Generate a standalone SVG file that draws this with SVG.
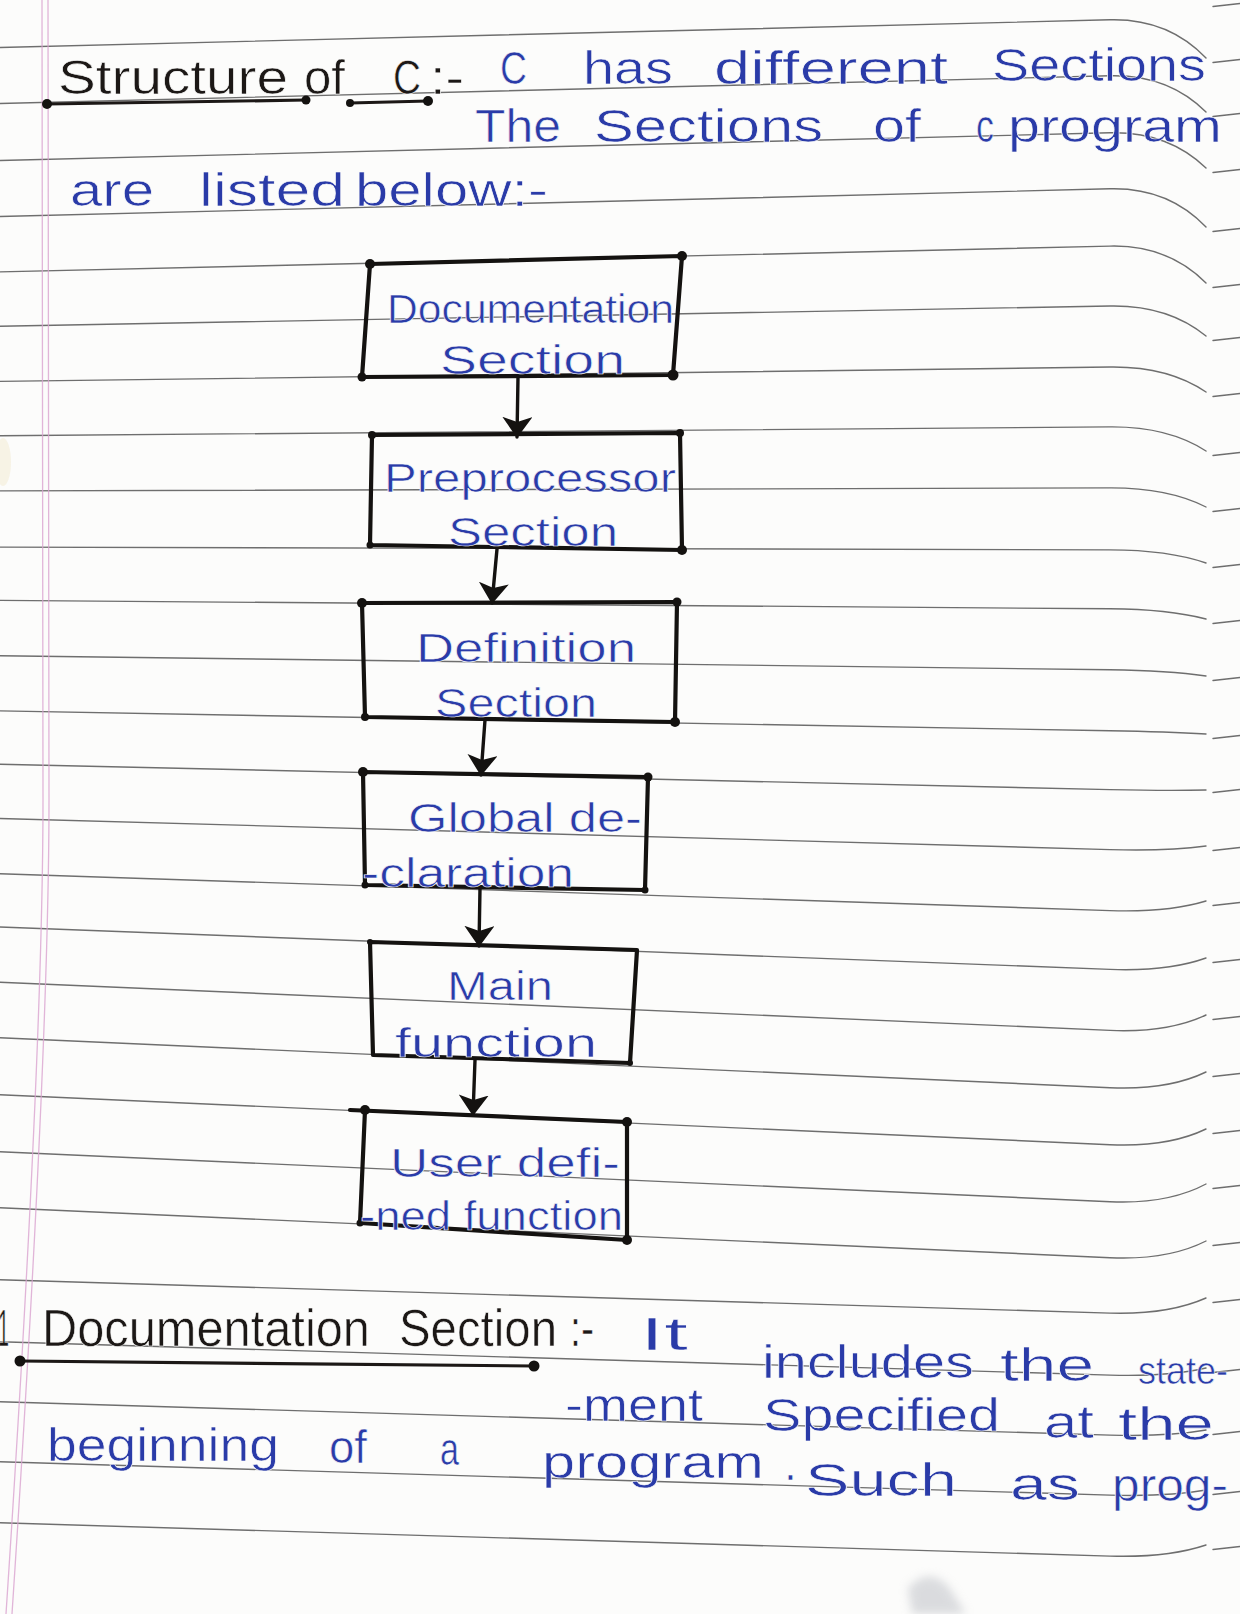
<svg xmlns="http://www.w3.org/2000/svg" width="1240" height="1614" viewBox="0 0 1240 1614">
  <defs>
    <style>
      .paper { fill: #fcfcfb; }
      .rule { fill: none; stroke: #555; stroke-width: 1.4; stroke-linecap: round; opacity: 0.85; }
      .margin { fill: none; stroke: #d9a3cf; stroke-width: 1.3; opacity: 0.8; }
      .box { fill: none; stroke: #141210; stroke-width: 4.2; stroke-linejoin: round; stroke-linecap: round; }
      .dot { fill: #141210; }
      .wire { fill: none; stroke: #141210; stroke-width: 3.4; stroke-linecap: round; }
      .rule-ink { fill: none; stroke: #1c1816; stroke-width: 3.2; stroke-linecap: round; }
      .blue { fill: #2a3ba8; stroke: #fcfcfb; stroke-width: 0.6; font-family: "Liberation Sans", Arial, sans-serif; }
      .black { fill: #1c1816; stroke: #fcfcfb; stroke-width: 0.6; font-family: "Liberation Sans", Arial, sans-serif; }
      .label { font-size: 40px; }
      .head { font-size: 48px; }
      .body { font-size: 46px; }
      .head2 { font-size: 52px; }
    </style>
    <marker id="head" markerUnits="userSpaceOnUse" markerWidth="21" markerHeight="30" viewBox="0 0 21 30" refX="20" refY="15" orient="auto">
      <path d="M0,0 L21,15 L0,30 L5,15 Z" fill="#141210"/>
    </marker>
    <filter id="soft" x="-50%" y="-50%" width="200%" height="200%">
      <feGaussianBlur stdDeviation="5"/>
    </filter>
  </defs>

  <!-- paper -->
  <rect class="paper" x="0" y="0" width="1240" height="1614"/>
  <ellipse cx="3" cy="462" rx="8" ry="24" fill="#eee3bd" opacity="0.35"/>
  <path d="M908,1588 Q928,1566 948,1586 L966,1614 L912,1614 Z" fill="#b9bcc2" opacity="0.5" filter="url(#soft)"/>

  <!-- ruled lines of the notebook page -->
  <g id="ruling">
    <path class="rule" d="M0,47.5 L1110,19.8 Q1168,18.3 1206,58
      M0,103.5 L1110,75.8 Q1168,74.3 1206,112
      M0,160.5 L1110,132.8 Q1168,131.3 1206,168
      M0,216.5 L1110,188.8 Q1168,187.3 1206,227
      M0,271.9 L1110,246.1 Q1168,244.7 1206,283
      M0,326.2 L1110,306 Q1168,304.9 1206,336
      M0,381.4 L1110,367 Q1168,366.2 1206,392
      M0,435.7 L1110,426.9 Q1168,426.4 1206,451
      M0,490.9 L1110,487.9 Q1168,487.7 1206,507
      M0,547.1 L1110,549.9 Q1168,550 1206,563
      M0,600.4 L1110,608.8 Q1168,609.2 1206,619
      M0,655.7 L1110,669.8 Q1168,670.5 1206,676
      M0,710.9 L1110,730.8 Q1168,731.8 1206,734
      M0,764.2 L1110,789.6 Q1168,790.9 1206,790
      M0,818.5 L1110,849.6 Q1168,851.2 1206,846
      M0,873.7 L1110,910.6 Q1168,912.5 1206,901
      M0,927 L1110,969.4 Q1168,971.6 1206,958
      M0,982.2 L1110,1030.4 Q1168,1032.9 1206,1015
      M0,1037.7 L1110,1087.7 Q1168,1090.3 1206,1072
      M0,1094.7 L1110,1144.7 Q1168,1147.3 1206,1129
      M0,1151.7 L1110,1201.7 Q1168,1204.3 1206,1184
      M0,1207.7 L1110,1257.7 Q1168,1260.3 1206,1241
      M0,1279.8 L1110,1313.1 Q1168,1314.8 1206,1298
      M0,1341.8 L1110,1375.1 Q1168,1376.8 1206,1368
      M0,1401.8 L1110,1435.1 Q1168,1436.8 1206,1430
      M0,1461.8 L1110,1495.1 Q1168,1496.8 1206,1490
      M0,1522.8 L1110,1556.1 Q1168,1557.8 1206,1545"/>
    <!-- line ends on the far side of the page fold -->
    <path class="rule" d="M1213,6.5 L1240,3.5 M1213,62.5 L1240,59.5 M1213,116.5 L1240,113.5 M1213,172.5 L1240,169.5
      M1213,231.5 L1240,228.5 M1213,287.5 L1240,284.5 M1213,340.5 L1240,337.5 M1213,396.5 L1240,393.5
      M1213,455.5 L1240,452.5 M1213,511.5 L1240,508.5 M1213,567.5 L1240,564.5 M1213,623.5 L1240,620.5
      M1213,680.5 L1240,677.5 M1213,738.5 L1240,735.5 M1213,792.5 L1240,789.5 M1213,850.5 L1240,847.5
      M1213,905.5 L1240,902.5 M1213,962.5 L1240,959.5 M1213,1019.5 L1240,1016.5 M1213,1076.5 L1240,1073.5
      M1213,1133.5 L1240,1130.5 M1213,1188.5 L1240,1185.5 M1213,1245.5 L1240,1242.5 M1213,1302.5 L1240,1299.5
      M1213,1372.5 L1240,1369.5 M1213,1434.5 L1240,1431.5 M1213,1494.5 L1240,1491.5 M1213,1549.5 L1240,1546.5"/>
    <path class="margin" d="M42,0 L43,800 C43,960 30,1250 6,1614"/>
    <path class="margin" d="M48,0 L49,800 C49,960 36,1250 12,1614"/>
  </g>

  <!-- heading and introduction -->
  <g id="heading">
    <text class="black head" y="94"><tspan x="58" textLength="230" lengthAdjust="spacingAndGlyphs">Structure</tspan><tspan x="304" textLength="41" lengthAdjust="spacingAndGlyphs">of</tspan><tspan x="393" textLength="28" lengthAdjust="spacingAndGlyphs">C</tspan><tspan x="430" textLength="34" lengthAdjust="spacingAndGlyphs">:-</tspan></text>
    <path class="rule-ink" d="M47,104 L306,100 M350,103 L428,101"/>
    <circle class="dot" cx="47" cy="104" r="5"/>
    <circle class="dot" cx="306" cy="100" r="4.5"/>
    <circle class="dot" cx="350" cy="103" r="4"/>
    <circle class="dot" cx="428" cy="101" r="5"/>
    <text class="blue body" y="84"><tspan x="500" textLength="27" lengthAdjust="spacingAndGlyphs">C</tspan><tspan x="583" textLength="90" lengthAdjust="spacingAndGlyphs">has</tspan><tspan x="714" textLength="234" lengthAdjust="spacingAndGlyphs">different</tspan><tspan x="992" y="81" textLength="214" lengthAdjust="spacingAndGlyphs">Sections</tspan></text>
    <text class="blue body" y="142"><tspan x="475" textLength="86" lengthAdjust="spacingAndGlyphs">The</tspan><tspan x="594" textLength="229" lengthAdjust="spacingAndGlyphs">Sections</tspan><tspan x="873" textLength="48" lengthAdjust="spacingAndGlyphs">of</tspan><tspan x="976" textLength="18" lengthAdjust="spacingAndGlyphs">c</tspan><tspan x="1008" textLength="214" lengthAdjust="spacingAndGlyphs">program</tspan></text>
    <text class="blue body" y="206"><tspan x="70" textLength="84" lengthAdjust="spacingAndGlyphs">are</tspan><tspan x="199" textLength="146" lengthAdjust="spacingAndGlyphs">listed</tspan><tspan x="355" textLength="193" lengthAdjust="spacingAndGlyphs">below:-</tspan></text>
  </g>

  <!-- flow of program sections -->
  <g id="connectors">
    <path class="wire" d="M518,377 L517,437" marker-end="url(#head)"/>
    <path class="wire" d="M497,549 L492,603" marker-end="url(#head)"/>
    <path class="wire" d="M485,720 L481,775" marker-end="url(#head)"/>
    <path class="wire" d="M480,888 L479,946" marker-end="url(#head)"/>
    <path class="wire" d="M475,1060 L473,1115" marker-end="url(#head)"/>
  </g>

  <g id="node-documentation">
    <path class="box" d="M370,264 L682,256 L673,375 L362,377 Z"/>
    <circle class="dot" cx="370" cy="264" r="5"/>
    <circle class="dot" cx="682" cy="256" r="5"/>
    <circle class="dot" cx="673" cy="375" r="5.5"/>
    <circle class="dot" cx="362" cy="377" r="4.5"/>
    <text class="blue label" x="387" y="323" textLength="287" lengthAdjust="spacingAndGlyphs">Documentation</text>
    <text class="blue label" x="440" y="374" textLength="185" lengthAdjust="spacingAndGlyphs">Section</text>
  </g>

  <g id="node-preprocessor">
    <path class="box" d="M372,435 L680,433 L682,550 L370,545 Z"/>
    <circle class="dot" cx="372" cy="435" r="4"/>
    <circle class="dot" cx="680" cy="433" r="4"/>
    <circle class="dot" cx="682" cy="550" r="5"/>
    <circle class="dot" cx="370" cy="545" r="3.5"/>
    <text class="blue label" x="384" y="492" textLength="292" lengthAdjust="spacingAndGlyphs">Preprocessor</text>
    <text class="blue label" x="448" y="546" textLength="170" lengthAdjust="spacingAndGlyphs">Section</text>
  </g>

  <g id="node-definition">
    <path class="box" d="M362,603 L677,602 L675,722 L365,717 Z"/>
    <circle class="dot" cx="362" cy="603" r="5"/>
    <circle class="dot" cx="677" cy="602" r="4.5"/>
    <circle class="dot" cx="675" cy="722" r="5"/>
    <circle class="dot" cx="365" cy="717" r="4"/>
    <text class="blue label" x="416" y="662" textLength="220" lengthAdjust="spacingAndGlyphs">Definition</text>
    <text class="blue label" x="435" y="717" textLength="162" lengthAdjust="spacingAndGlyphs">Section</text>
  </g>

  <g id="node-global">
    <path class="box" d="M363,772 L648,777 L645,890 L365,885 Z"/>
    <circle class="dot" cx="363" cy="772" r="5"/>
    <circle class="dot" cx="648" cy="777" r="4.5"/>
    <circle class="dot" cx="645" cy="890" r="3.5"/>
    <circle class="dot" cx="365" cy="885" r="3.5"/>
    <text class="blue label" x="408" y="832" textLength="234" lengthAdjust="spacingAndGlyphs">Global de-</text>
    <text class="blue label" x="362" y="887" textLength="212" lengthAdjust="spacingAndGlyphs">-claration</text>
  </g>

  <g id="node-main">
    <path class="box" d="M370,942 L637,950 L630,1063 L373,1055 Z"/>
    <circle class="dot" cx="370" cy="942" r="3"/>
    <circle class="dot" cx="630" cy="1063" r="3"/>
    <text class="blue label" x="447" y="1000" textLength="106" lengthAdjust="spacingAndGlyphs">Main</text>
    <text class="blue label" x="395" y="1057" textLength="202" lengthAdjust="spacingAndGlyphs">function</text>
  </g>

  <g id="node-user-defined">
    <path class="box" d="M350,1110 L627,1122 L627,1240 L360,1223 L365,1110"/>
    <circle class="dot" cx="365" cy="1110" r="5"/>
    <circle class="dot" cx="627" cy="1122" r="5"/>
    <circle class="dot" cx="627" cy="1240" r="5"/>
    <circle class="dot" cx="360" cy="1223" r="3.5"/>
    <text class="blue label" x="390" y="1177" textLength="230" lengthAdjust="spacingAndGlyphs">User defi-</text>
    <text class="blue label" x="360" y="1230" textLength="263" lengthAdjust="spacingAndGlyphs">-ned function</text>
  </g>

  <!-- first section explained -->
  <g id="documentation-note">
    <text class="black head2" y="1346"><tspan x="-2" textLength="11" lengthAdjust="spacingAndGlyphs">1</tspan><tspan x="42" textLength="328" lengthAdjust="spacingAndGlyphs">Documentation</tspan><tspan x="399" textLength="158" lengthAdjust="spacingAndGlyphs">Section</tspan><tspan x="570" textLength="24" lengthAdjust="spacingAndGlyphs">:-</tspan></text>
    <path class="rule-ink" d="M20,1361 L534,1366"/>
    <circle class="dot" cx="20" cy="1361" r="5.5"/>
    <circle class="dot" cx="534" cy="1366" r="5.5"/>
    <text class="blue body"><tspan x="640" y="1350" textLength="48" lengthAdjust="spacingAndGlyphs">It</tspan><tspan x="762" y="1378" textLength="212" lengthAdjust="spacingAndGlyphs">includes</tspan><tspan x="1000" y="1381" textLength="94" lengthAdjust="spacingAndGlyphs">the</tspan><tspan x="1138" y="1384" font-size="38" textLength="90" lengthAdjust="spacingAndGlyphs">state-</tspan></text>
    <text class="blue body"><tspan x="565" y="1421" textLength="138" lengthAdjust="spacingAndGlyphs">-ment</tspan><tspan x="763" y="1431" textLength="237" lengthAdjust="spacingAndGlyphs">Specified</tspan><tspan x="1044" y="1438" textLength="50" lengthAdjust="spacingAndGlyphs">at</tspan><tspan x="1118" y="1440" textLength="96" lengthAdjust="spacingAndGlyphs">the</tspan></text>
    <text class="blue body"><tspan x="47" y="1461" textLength="232" lengthAdjust="spacingAndGlyphs">beginning</tspan><tspan x="329" y="1463" textLength="38" lengthAdjust="spacingAndGlyphs">of</tspan><tspan x="440" y="1465" textLength="19" lengthAdjust="spacingAndGlyphs">a</tspan><tspan x="542" y="1478" textLength="222" lengthAdjust="spacingAndGlyphs">program</tspan><tspan x="784" y="1480">.</tspan><tspan x="805" y="1496" textLength="152" lengthAdjust="spacingAndGlyphs">Such</tspan><tspan x="1010" y="1500" textLength="70" lengthAdjust="spacingAndGlyphs">as</tspan><tspan x="1112" y="1501" textLength="116" lengthAdjust="spacingAndGlyphs">prog-</tspan></text>
  </g>
</svg>
